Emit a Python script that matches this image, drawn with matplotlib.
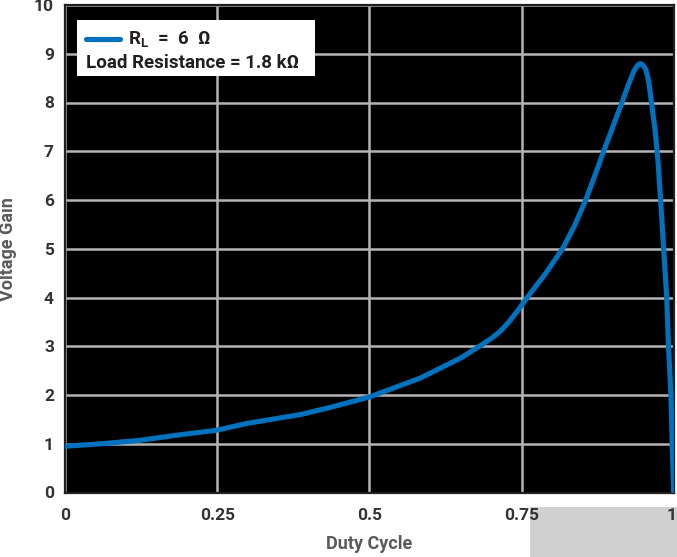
import numpy as np
import matplotlib
matplotlib.use("Agg")
import matplotlib.pyplot as plt
from matplotlib.patches import Rectangle
from matplotlib.transforms import ScaledTranslation

# values (R_L = 6 ohm, load 1.8 kohm)
duty = [0.0, 0.06, 0.123, 0.18, 0.25, 0.30, 0.387, 0.44, 0.5, 0.584, 0.65,
        0.683, 0.70, 0.715, 0.729, 0.744, 0.759, 0.789, 0.817, 0.837, 0.855,
        0.870, 0.883, 0.898, 0.914, 0.925, 0.934, 0.940, 0.9446, 0.949,
        0.954, 0.959, 0.963, 0.969, 0.974, 0.978, 0.983, 0.988, 0.991,
        0.995, 0.997, 0.9995]
gain = [0.95, 1.0, 1.07, 1.17, 1.28, 1.42, 1.60, 1.76, 1.96, 2.35, 2.76,
        3.02, 3.16, 3.31, 3.50, 3.74, 4.0, 4.49, 5.0, 5.48, 6.0,
        6.5, 6.95, 7.45, 7.98, 8.36, 8.64, 8.76, 8.80, 8.77,
        8.67, 8.39, 8.0, 7.43, 6.75, 6.0, 5.0, 4.0, 3.0,
        2.0, 1.0, 0.0]

x_ticks = [0, 0.25, 0.5, 0.75, 1]
x_labels = ["0", "0.25", "0.5", "0.75", "1"]
y_ticks = list(range(0, 11))

blue = "#0071bc"
tick_col = "#333333"
label_col = "#5a5a5a"

plt.rcParams['font.family'] = ['Roboto', 'DejaVu Sans']
plt.rcParams['mathtext.fontset'] = 'custom'
plt.rcParams['mathtext.rm'] = 'Roboto:bold'

fig = plt.figure(figsize=(6.77, 5.57), dpi=100)
fig.patch.set_facecolor("white")
ax = fig.add_axes([65/677, (557-492.5)/557, 609/677, 487.5/557])
ax.set_facecolor("black")

# grey block in the bottom-right corner of the original
fig.patches.append(Rectangle((530/677, 0), 147/677, 50/557, transform=fig.transFigure,
                             facecolor="#d0d0d0", edgecolor="none", zorder=-1))

ax.plot(duty, gain, color=blue, lw=3.7, zorder=3, solid_joinstyle='round')

ax.set_xlim(0, 1)
ax.set_ylim(0, 10)
ax.set_xticks(x_ticks)
ax.set_xticklabels(x_labels)
ax.set_yticks(y_ticks)
ax.grid(True, color="#b4b4b4", lw=1.8, zorder=1)
ax.set_axisbelow(True)
ax.tick_params(axis='both', length=0, labelsize=12.5, labelcolor=tick_col)
ax.tick_params(axis='x', pad=11)
ax.tick_params(axis='y', pad=8)
for lab in ax.get_xticklabels() + ax.get_yticklabels():
    lab.set_fontweight("bold")
# keep the last x label inside the figure edge
last = ax.get_xticklabels()[-1]
last.set_horizontalalignment("right")
last.set_transform(last.get_transform() + ScaledTranslation(3/100, 0, fig.dpi_scale_trans))
for sp in ax.spines.values():
    sp.set_color("#231f20")
    sp.set_linewidth(1.6)

ax.set_xlabel("Duty Cycle", fontsize=13, fontweight="bold", color=label_col, labelpad=9)
ax.set_ylabel("Voltage Gain", fontsize=13, fontweight="bold", color=label_col, labelpad=12)

# legend box
ax.add_patch(Rectangle((0.0197, 0.854), 0.3908, 0.115, transform=ax.transAxes,
                       facecolor="white", edgecolor="none", zorder=5))
ax.plot([0.0345, 0.0903], [0.930, 0.930], transform=ax.transAxes, color=blue,
        lw=3.7, solid_capstyle='round', zorder=6)
ax.text(0.1034, 0.928, r"$\mathrm{R}_\mathrm{L}$  =  6  Ω", transform=ax.transAxes,
        fontsize=13.5, fontweight="bold", color="#231f20", va="center", ha="left", zorder=6)
ax.text(0.0345, 0.881, "Load Resistance = 1.8 kΩ", transform=ax.transAxes,
        fontsize=13.5, fontweight="bold", color="#231f20", va="center", ha="left", zorder=6)

plt.savefig("out.png", dpi=100)
